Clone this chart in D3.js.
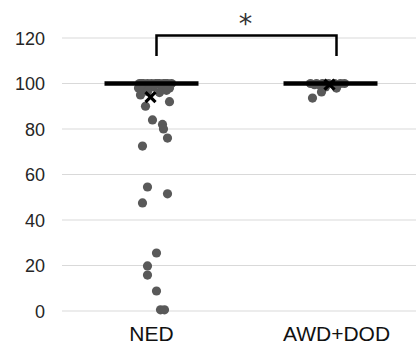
<!DOCTYPE html>
<html lang="en">
<head>
    <meta charset="UTF-8">
    <title>Chart</title>
    <style>
        body { margin: 0; background: #fff; }
        svg { display: block; font-family: "Liberation Sans", Arial, sans-serif; }
    </style>
</head>
<body>
    <script src="https://cdn.jsdelivr.net/npm/d3@7"></script>
    <svg id="mysvg" width="416" height="347"></svg>
    <script>
        var categories = ['NED', 'AWD+DOD'];
        var yTicks = [0, 20, 40, 60, 80, 100, 120];

        // values
        var nedValues = [100, 100, 100, 100, 100, 100, 100, 100, 100, 100, 100, 100,
            99, 99, 98.5, 98, 98, 97, 97, 96.5, 96, 95,
            92, 90, 84, 82, 80, 76, 72.5, 54.5, 51.5, 47.5, 25.5, 19.8, 15.8, 8.8, 0.5, 0.5];
        // horizontal spread of each dot (px from category centre)
        var nedJitter = [-12, -8, -4, 0, 4, 8, 12, 16, 20, -10, 6, 14,
            -6, 10, 2, -13, 18, -9, 15, -4, 8, -11,
            18, -6, 1, 11, 12, 16, -9, -4, 16, -9, 5, -4, -4, 5, 9, 13];

        var awdValues = [100, 100, 100, 100, 100, 100, 100, 99.5, 99, 98.5, 98, 96.3, 93.6];
        var awdJitter = [-20, -14, -8, -2, 4, 10, 14, -16, -10, -5, 6, -9, -18];

        var medians = [100, 100];
        var means = [94, 99.5];

        var series = [
            {cat: 'NED', values: nedValues, jitter: nedJitter},
            {cat: 'AWD+DOD', values: awdValues, jitter: awdJitter}
        ];

        var svg = d3.select('#mysvg');

        var x = d3.scaleBand().domain(categories).range([62, 420]);
        var y = d3.scaleLinear().domain([0, 120]).range([311, 38]);
        function cx(c) { return x(c) + x.bandwidth() / 2; }

        // gridlines
        svg.append('g').selectAll('line').data(yTicks).enter().append('line')
            .attr('x1', 62).attr('x2', 416)
            .attr('y1', function(d) { return y(d); })
            .attr('y2', function(d) { return y(d); })
            .attr('stroke', '#d9d9d9').attr('stroke-width', 1.2);

        // y axis
        var yAxis = svg.append('g').attr('transform', 'translate(52,0)')
            .call(d3.axisLeft(y).tickValues(yTicks).tickSize(0).tickPadding(7));
        yAxis.select('.domain').remove();
        yAxis.selectAll('text').attr('font-size', 18).attr('fill', '#262626')
            .attr('font-family', '"Liberation Sans", Arial, sans-serif')
            .attr('dy', '0.36em');

        // x labels
        svg.append('g').selectAll('text').data(categories).enter().append('text')
            .attr('x', function(d, i) { return cx(d) + (i == 1 ? 6 : 0); })
            .attr('y', 341)
            .attr('text-anchor', 'middle')
            .attr('font-size', 21)
            .attr('fill', '#111')
            .text(function(d) { return d; });

        // dots
        series.forEach(function(s) {
            svg.append('g').selectAll('circle').data(s.values).enter().append('circle')
                .attr('cx', function(d, i) { return cx(s.cat) + s.jitter[i]; })
                .attr('cy', function(d) { return y(d); })
                .attr('r', 4.6)
                .attr('fill', '#595959');
        });

        // median bars
        svg.append('g').selectAll('line').data(medians).enter().append('line')
            .attr('x1', function(d, i) { return cx(categories[i]) - 47; })
            .attr('x2', function(d, i) { return cx(categories[i]) + 47; })
            .attr('y1', function(d) { return y(d); })
            .attr('y2', function(d) { return y(d); })
            .attr('stroke', '#000').attr('stroke-width', 4.5);

        // mean markers
        var mk = svg.append('g').selectAll('g').data(means).enter().append('g')
            .attr('transform', function(d, i) {
                return 'translate(' + (cx(categories[i]) - 1) + ',' + y(d) + ')';
            });
        mk.append('path')
            .attr('d', 'M-5,-5L5,5M-5,5L5,-5')
            .attr('stroke', '#000').attr('stroke-width', 3.2);

        // significance bracket
        var bx1 = cx(categories[0]) + 5, bx2 = cx(categories[1]) + 6;
        svg.append('path')
            .attr('d', 'M' + bx1 + ',56V35.5H' + bx2 + 'V56')
            .attr('fill', 'none').attr('stroke', '#000').attr('stroke-width', 2.5);
        svg.append('text')
            .attr('x', (bx1 + bx2) / 2 - 1).attr('y', 33)
            .attr('text-anchor', 'middle')
            .attr('font-family', '"DejaVu Sans", sans-serif')
            .attr('font-size', 27)
            .attr('fill', '#333')
            .text('*');
    </script>
</body>
</html>
